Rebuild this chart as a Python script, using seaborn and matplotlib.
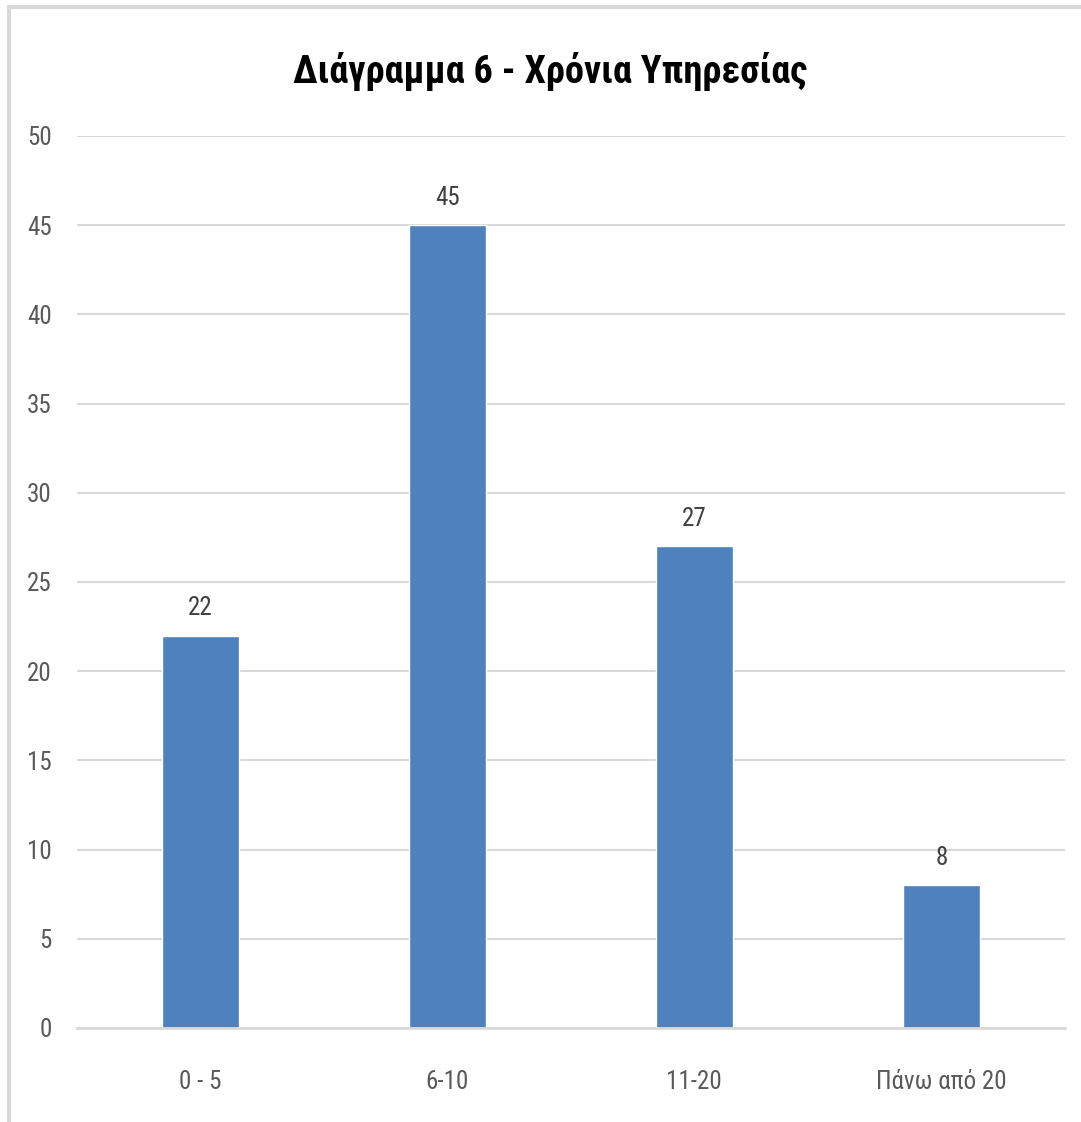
import matplotlib
matplotlib.use("Agg")
import matplotlib.pyplot as plt
from matplotlib import font_manager
from matplotlib.patches import Rectangle
import seaborn as sns
import pandas as pd

categories = ["0 - 5", "6-10", "11-20", "Πάνω από 20"]
counts = [22, 45, 27, 8]
y_ticks = [0, 5, 10, 15, 20, 25, 30, 35, 40, 45, 50]
title = "Διάγραμμα 6 - Χρόνια Υπηρεσίας"

sns.set_theme(style="white")


def pick_narrow_font():
    """Prefer a condensed / narrow face if one is installed."""
    entries = font_manager.fontManager.ttflist
    for pref in ["Liberation Sans Narrow", "Roboto Condensed", "Open Sans Condensed",
                 "Noto Sans Condensed", "DejaVu Sans Condensed"]:
        if any(f.name == pref for f in entries):
            return pref, "normal"
    for f in entries:
        if ("Narrow" in f.name or "Condensed" in f.name):
            return f.name, "normal"
    for f in entries:
        if str(f.stretch) in ("condensed", "semi-condensed", "extra-condensed", "300") \
                and f.name in ("DejaVu Sans", "Noto Sans", "Open Sans", "Roboto"):
            return f.name, "condensed"
    return "Roboto", "normal"


family, stretch = pick_narrow_font()
plt.rcParams["font.family"] = [family, "DejaVu Sans"]
plt.rcParams["font.stretch"] = stretch

df = pd.DataFrame({"category": categories, "count": counts})

fig = plt.figure(figsize=(10.81, 11.22), dpi=100)
ax = fig.add_axes([0.0712, 0.0838, 0.9138, 0.795])

sns.barplot(data=df, x="category", y="count", color="#4F81BD",
            saturation=1, width=0.31, ax=ax, zorder=3)

ax.set_ylim(0, 50)
ax.set_xlim(-0.5, 3.5)
ax.set_yticks(y_ticks)
ax.set_yticklabels([str(t) for t in y_ticks])
ax.yaxis.grid(True, color="#D9D9D9", linewidth=1.5, zorder=0)
ax.xaxis.grid(False)
for side in ["left", "right", "top"]:
    ax.spines[side].set_visible(False)
ax.spines["bottom"].set_color("#D9D9D9")
ax.spines["bottom"].set_linewidth(2)
ax.spines["bottom"].set_zorder(4)
ax.tick_params(axis="both", length=0, labelsize=18, colors="#595959")
ax.tick_params(axis="y", pad=18)
ax.tick_params(axis="x", pad=30)
ax.set_xlabel("")
ax.set_ylabel("")

for i, v in enumerate(counts):
    ax.annotate(str(v), (i, v), xytext=(0, 11), textcoords="offset points",
                ha="center", va="bottom", fontsize=18, color="#404040")

fig.text(0.509, 0.936, title, ha="center", va="center",
         fontsize=27.5, fontweight="bold", color="black")

# chart frame
fig.patches.append(Rectangle((9 / 1081, -0.01), 1.02, 1115 / 1122 + 0.01,
                             transform=fig.transFigure, fill=False,
                             edgecolor="#D9D9D9", linewidth=3))

fig.savefig("out.png", dpi=100, facecolor="white")
